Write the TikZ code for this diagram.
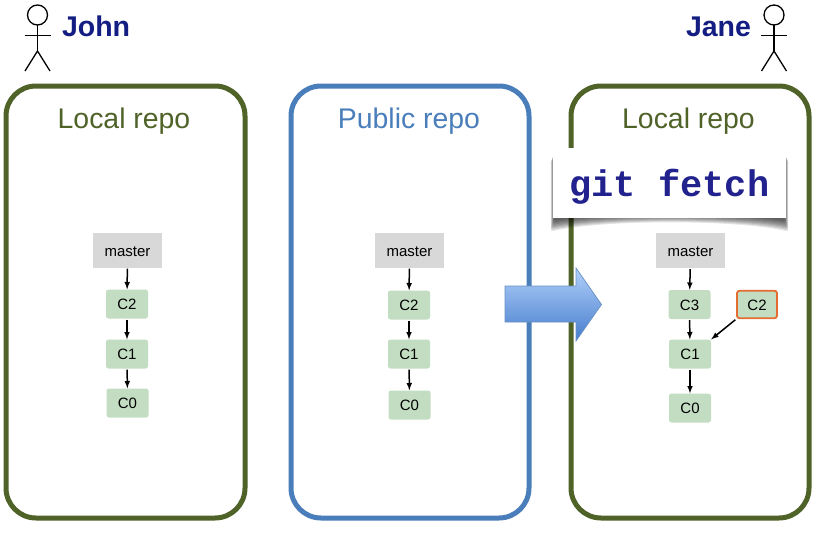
\documentclass[tikz,border=0pt]{standalone}
\usepackage{fontspec}
\setmainfont{Liberation Sans}
\newfontfamily\gitfont{Liberation Mono}
\usepackage{tikz}
\usetikzlibrary{arrows}

\definecolor{repogreen}{RGB}{79,98,40}
\definecolor{repoblue}{RGB}{74,126,187}
\definecolor{namecol}{RGB}{20,30,130}
\definecolor{gitcol}{RGB}{34,34,142}
\definecolor{commitcol}{RGB}{195,221,195}
\definecolor{branchcol}{RGB}{216,216,216}
\definecolor{orangecol}{RGB}{228,108,48}
\definecolor{arrowtop}{RGB}{178,208,250}
\definecolor{arrowbot}{RGB}{70,125,205}

\tikzset{
	repobox/.style={line width=5pt, rounded corners=30pt},
	repotitle/.style={font=\fontsize{28.4}{32}\selectfont},
	username/.style={font=\fontsize{28.5}{31}\selectfont\bfseries, text=namecol},
	branch/.style={fill=branchcol, minimum width=69pt, minimum height=35pt, inner sep=0pt, text height=12pt, text depth=0pt, font=\fontsize{15}{17}\selectfont},
	commit/.style={fill=commitcol, rounded corners=2.5pt, minimum width=42pt, minimum height=29pt, inner sep=0pt, text height=11pt, text depth=0pt, font=\fontsize{15}{17}\selectfont},
	link/.style={->,>=latex, line width=1.5pt, shorten <=1pt},
}

\begin{document}
\begin{tikzpicture}[x=1pt,y=-1pt]
			
			\useasboundingbox (0,0) rectangle (827,551);
			
			
			\draw[repobox, repogreen] (6,86) rectangle (245,518);
			\draw[repobox, repoblue] (291,86) rectangle (529,518);
			\draw[repobox, repogreen] (571,86) rectangle (809,518);
			
			\node[repotitle, text=repogreen] (titlea) at (124,121) {Local repo};
			\node[repotitle, text=repoblue] (titleb) at (409,121) {Public repo};
			\node[repotitle, text=repogreen] (titlec) at (688.5,121) {Local repo};
			
			
			\foreach \x in {37.5,774}{
				\draw[line width=1.3pt] (\x,15) circle (10);
				\draw[line width=1.3pt] (\x,25)--(\x,51);
				\draw[line width=1.3pt] (\x-13,35.5)--(\x+13,35.5);
				\draw[line width=1.3pt] (\x-12.5,71)--(\x,51)--(\x+12.5,71);
			}
			\node[username, anchor=west] (john) at (58.5,26.5) {John};
			\node[username, anchor=east] (jane) at (754.5,26.5) {Jane};
			
			
			\node[branch] (mastera) at (127.5,250) {master};
			\node[commit] (c2a) at (127,304) {C2};
			\node[commit] (c1a) at (127,354) {C1};
			\node[commit] (c0a) at (127.5,403) {C0};
			\draw[link] (mastera)--(c2a);
			\draw[link] (c2a)--(c1a);
			\draw[link] (c1a)--(c0a);
			
			\node[branch] (masterb) at (409.5,250) {master};
			\node[commit] (c2b) at (409,305) {C2};
			\node[commit] (c1b) at (409,354) {C1};
			\node[commit] (c0b) at (409.5,405) {C0};
			\draw[link] (masterb)--(c2b);
			\draw[link] (c2b)--(c1b);
			\draw[link] (c1b)--(c0b);
			
			\node[branch] (masterc) at (690.5,250.5) {master};
			\node[commit] (c3c) at (689.5,304.5) {C3};
			\node[commit] (c1c) at (690,354) {C1};
			\node[commit] (c0c) at (690,408) {C0};
			\node[commit, draw=orangecol, line width=1.8pt, minimum width=40pt, minimum height=27.5pt] (c2c) at (757,304.5) {C2};
			\draw[link] (masterc)--(c3c);
			\draw[link] (c3c)--(c1c);
			\draw[link] (c1c)--(c0c);
			\draw[link] (c2c.south west)--(c1c.north east);
			
			
			\shade[top color=arrowtop, bottom color=arrowbot, draw=repoblue!85!white, line width=0.7pt] (505,286)--(576,286)--(576,268)--(601.5,304.5)--(576,341)--(576,322)--(505,322)--cycle;
			
			
			\foreach \d in {0,1,2,3,4,5,6,7,8}{
				\fill[black, opacity=0.1, rounded corners=2pt] (554-\d*0.4,152+\d)--(785+\d*0.4,152+\d)--(785+\d*0.4,221+\d*1.3) .. controls (735,213+\d*0.8) and (605,213+\d*0.8) .. (554-\d*0.4,221+\d*1.3)--cycle;
			}
			\node[fill=white, minimum width=233pt, minimum height=70pt, inner sep=0pt, text height=30pt, text depth=4pt, text=gitcol, font=\fontsize{37}{40}\selectfont\gitfont\bfseries] (gitcmd) at (669.5,183) {git fetch};
			
		\end{tikzpicture}
\end{document}
